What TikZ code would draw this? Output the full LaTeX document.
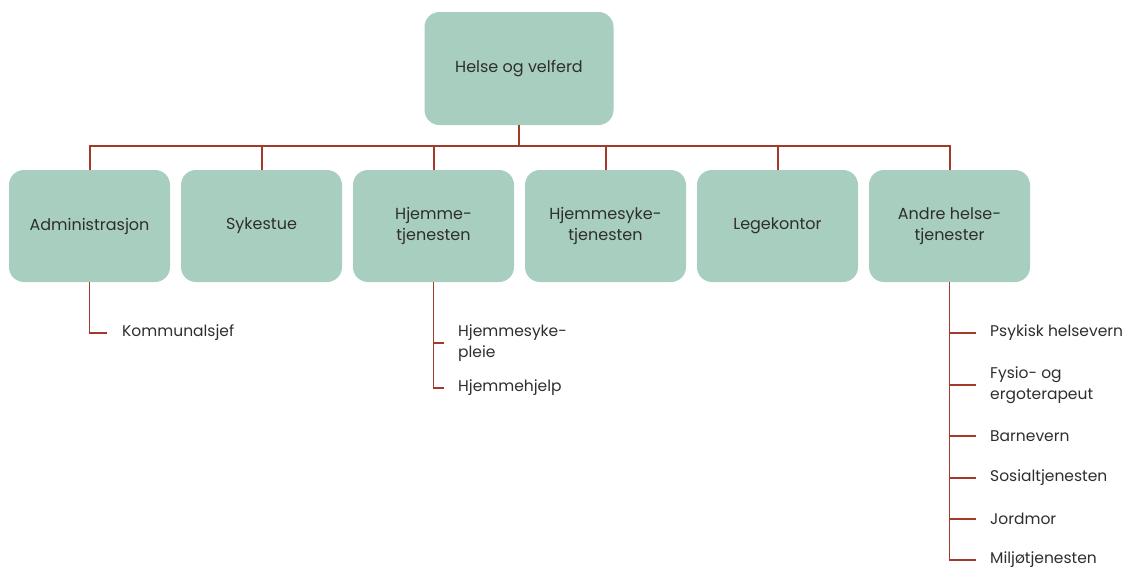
\documentclass[tikz,border=0pt]{standalone}
\usepackage{fontspec}
\setmainfont{Poppins}
\usetikzlibrary{calc}
\definecolor{boxfill}{HTML}{A8CEBF}
\definecolor{linered}{HTML}{A23A2A}
\definecolor{txt}{HTML}{2E2E2E}
\tikzset{
  orgbox/.style={draw=none, fill=boxfill, rounded corners=15pt, minimum width=161pt, minimum height=112pt, inner sep=2pt, align=center, text=txt, font=\fontsize{16}{21}\selectfont},
  topbox/.style={orgbox, minimum width=189pt, minimum height=113pt},
  leaf/.style={anchor=west, inner xsep=0pt, inner ysep=1pt, align=left, text=txt, font=\fontsize{15.5}{21}\selectfont},
  conn/.style={draw=linered, line width=2pt},
  tick/.style={draw=linered, line width=1.8pt}
}
\begin{document}
\begin{tikzpicture}[x=1pt,y=-1pt]
\useasboundingbox (0,0) rectangle (1129,566);
\node[topbox] (top) at (519,68.5) {Helse og velferd};
\node[orgbox] (b1) at (89.5,226) {Administrasjon};
\node[orgbox] (b2) at (261.5,226) {Sykestue};
\node[orgbox] (b3) at (433.5,226) {Hjemme-\\tjenesten};
\node[orgbox] (b4) at (605.5,226) {Hjemmesyke-\\tjenesten};
\node[orgbox] (b5) at (777.5,226) {Legekontor};
\node[orgbox] (b6) at (949.5,226) {Andre helse-\\tjenester};
\coordinate (bus) at (519,146);
\draw[conn] (top.south) -- (bus);
\foreach \b in {b1,b2,b3,b4,b5,b6}{
  \draw[conn] (bus) -| (\b.north);
}
% leaves
\node[leaf] (k1) at (122,333) {Kommunalsjef};
\node[leaf] (h1) at (458,343) {Hjemmesyke-\\pleie};
\node[leaf] (h2) at (458,388) {Hjemmehjelp};
\node[leaf] (a1) at (990,333) {Psykisk helsevern};
\node[leaf] (a2) at (990,385) {Fysio- og\\ergoterapeut};
\node[leaf] (a3) at (990,436) {Barnevern};
\node[leaf] (a4) at (990,478) {Sosialtjenesten};
\node[leaf] (a5) at (990,519) {Jordmor};
\node[leaf] (a6) at (990,560) {Miljøtjenesten};
\draw[tick] (b1.south) |- ($(k1.west)+(-15pt,0)$);
\draw[tick] (b3.south) |- ($(h2.west)+(-14pt,0)$);
\draw[tick] (b3.south |- h1.west) -- ($(h1.west)+(-14pt,0)$);
\draw[tick] (b6.south) |- ($(a6.west)+(-14pt,0)$);
\foreach \a in {a1,a2,a3,a4,a5}{
  \draw[tick] (b6.south |- \a.west) -- ($(\a.west)+(-14pt,0)$);
}
\end{tikzpicture}
\end{document}
